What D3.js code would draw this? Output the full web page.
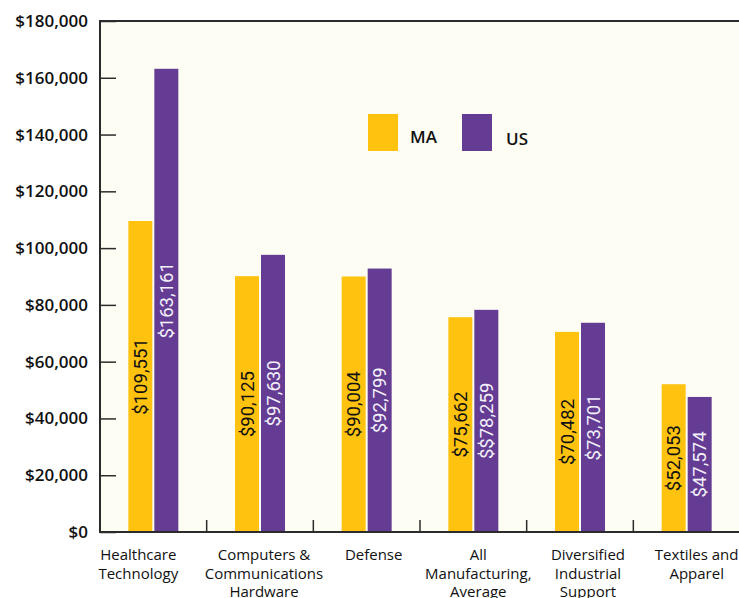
<!DOCTYPE html>
<html>
<head>
<meta charset="utf-8">
<script src="https://cdn.jsdelivr.net/npm/d3@7"></script>
<style>
  html, body { margin: 0; padding: 0; background: #ffffff; }
  svg { display: block; }
</style>
</head>
<body>
<svg id="chart" width="739" height="598"></svg>
<script>
// ---------- data ----------
const categories = [
  ["Healthcare", "Technology"],
  ["Computers &", "Communications", "Hardware"],
  ["Defense"],
  ["All", "Manufacturing,", "Average"],
  ["Diversified", "Industrial", "Support"],
  ["Textiles and", "Apparel"]
];
const seriesNames = ["MA", "US"];
const maValues = [109551, 90125, 90004, 75662, 70482, 52053];
const usValues = [163161, 97630, 92799, 78259, 73701, 47574];
const maLabels = ["$109,551", "$90,125", "$90,004", "$75,662", "$70,482", "$52,053"];
const usLabels = ["$163,161", "$97,630", "$92,799", "$$78,259", "$73,701", "$47,574"];
const yTicks = [0, 20000, 40000, 60000, 80000, 100000, 120000, 140000, 160000, 180000];

// ---------- layout ----------
const W = 739, H = 598;
const plot = { left: 100, right: 740, top: 21, bottom: 532 };
const colors = { MA: "#FEC20F", US: "#643C94" };
const bg = "#FEFDF4";
const axisColor = "#2b2b2b";
const labelNudge = [-15, 4, 7, 5, 8, 10];   // horizontal nudge of category labels

const svg = d3.select("#chart");

const x = d3.scaleBand()
  .domain(d3.range(categories.length))
  .range([plot.left, plot.right])
  .padding(0);

const xs = d3.scaleBand()
  .domain(seriesNames)
  .range([-25, 25])
  .paddingInner(0.0769)
  .paddingOuter(0);

const y = d3.scaleLinear()
  .domain([0, 180000])
  .range([plot.bottom, plot.top]);

// plot background
svg.append("rect")
  .attr("x", plot.left).attr("y", plot.top)
  .attr("width", plot.right - plot.left)
  .attr("height", plot.bottom - plot.top)
  .attr("fill", bg);

// bars
const rows = categories.map((c, i) => ({
  i,
  values: [
    { s: "MA", v: maValues[i], label: maLabels[i] },
    { s: "US", v: usValues[i], label: usLabels[i] }
  ]
}));

const groups = svg.append("g").selectAll("g")
  .data(rows).join("g")
  .attr("transform", d => `translate(${x(d.i) + x.bandwidth() / 2},0)`);

groups.selectAll("rect")
  .data(d => d.values).join("rect")
  .attr("x", d => xs(d.s))
  .attr("y", d => y(d.v))
  .attr("width", xs.bandwidth())
  .attr("height", d => y(0) - y(d.v))
  .attr("fill", d => colors[d.s]);

groups.selectAll("text")
  .data(d => d.values).join("text")
  .attr("transform", d => {
    const cx = xs(d.s) + xs.bandwidth() / 2;
    const cy = (y(d.v) + y(0)) / 2;
    return `translate(${cx},${cy}) rotate(-90)`;
  })
  .attr("text-anchor", "middle")
  .attr("dy", "0.36em")
  .attr("font-family", "Roboto, 'DejaVu Sans', sans-serif")
  .attr("font-size", 18.5)
  .attr("fill", d => d.s === "MA" ? "#111111" : "#F3F0FA")
  .text(d => d.label);

// y axis
const yAxis = d3.axisLeft(y)
  .tickValues(yTicks)
  .tickSizeInner(-16)
  .tickSizeOuter(0)
  .tickPadding(12)
  .tickFormat(d => "$" + d3.format(",")(d));

const yg = svg.append("g")
  .attr("transform", `translate(${plot.left},0)`)
  .call(yAxis);
yg.select(".domain").remove();
yg.selectAll(".tick line").attr("stroke", axisColor).attr("stroke-width", 1.5);
yg.selectAll(".tick text")
  .attr("x", -12)
  .attr("font-family", "'Open Sans', 'Noto Sans', sans-serif")
  .attr("font-size", 17)
  .attr("font-weight", 600)
  .attr("fill", "#111111");

// x axis ticks at category boundaries
const boundaries = d3.range(categories.length).map(i => x(i));
const xg = svg.append("g");
xg.selectAll("line")
  .data(boundaries).join("line")
  .attr("x1", d => d).attr("x2", d => d)
  .attr("y1", plot.bottom).attr("y2", plot.bottom - 12)
  .attr("stroke", axisColor).attr("stroke-width", 1.5);

// frame: left, top, bottom
svg.append("path")
  .attr("d", `M${plot.right},${plot.top}H${plot.left}V${plot.bottom}H${plot.right}`)
  .attr("fill", "none")
  .attr("stroke", axisColor)
  .attr("stroke-width", 2);

// x labels
const xl = svg.append("g").selectAll("text")
  .data(categories.map((lines, i) => ({ lines, i }))).join("text")
  .attr("text-anchor", "middle")
  .attr("font-family", "'Open Sans', 'Noto Sans', sans-serif")
  .attr("font-size", 15)
  .attr("font-weight", 500)
  .attr("fill", "#111111")
  .attr("x", d => x(d.i) + x.bandwidth() / 2 + labelNudge[d.i])
  .attr("y", 560);
xl.selectAll("tspan")
  .data(d => d.lines.map(l => ({ l, i: d.i }))).join("tspan")
  .attr("x", function () { return this.parentNode.getAttribute("x"); })
  .attr("dy", (d, k) => k === 0 ? 0 : 18.5)
  .text(d => d.l);

// legend
const legend = svg.append("g");
const legendItems = [
  { s: "MA", x: 368, tx: 410 },
  { s: "US", x: 462, tx: 506 }
];
legend.selectAll("rect")
  .data(legendItems).join("rect")
  .attr("x", d => d.x).attr("y", 114)
  .attr("width", 30).attr("height", 37)
  .attr("fill", d => colors[d.s]);
legend.selectAll("text")
  .data(legendItems).join("text")
  .attr("x", d => d.tx)
  .attr("y", (d, k) => k === 0 ? 143 : 145)
  .attr("font-family", "'Open Sans', 'Noto Sans', sans-serif")
  .attr("font-size", 17)
  .attr("font-weight", 600)
  .attr("fill", "#111111")
  .text(d => d.s);
</script>
</body>
</html>
